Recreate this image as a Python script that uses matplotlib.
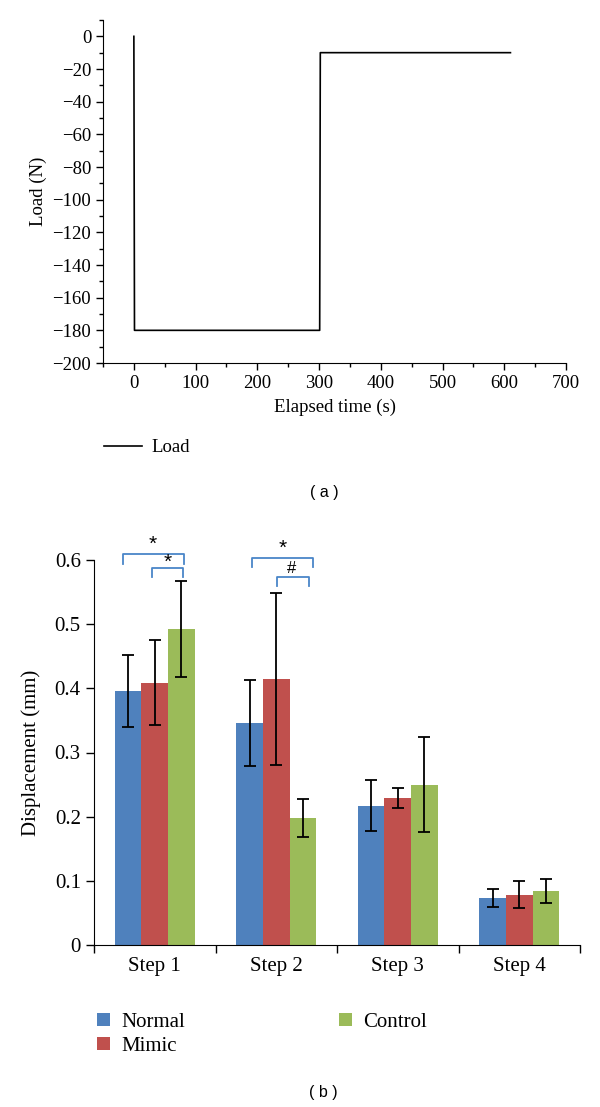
import matplotlib
matplotlib.use('Agg')
import matplotlib.pyplot as plt
from matplotlib.ticker import MultipleLocator, FixedLocator, NullFormatter
from matplotlib.lines import Line2D
from matplotlib.patches import Patch

# (a) load vs time
time_s = [0, 1, 301, 302, 610]
load_n = [0, -180, -180, -10, -10]

# (b) displacement per step and group
steps = ['Step 1', 'Step 2', 'Step 3', 'Step 4']
groups = ['Normal', 'Mimic', 'Control']
normal = [0.396, 0.346, 0.217, 0.074]
mimic = [0.409, 0.415, 0.229, 0.078]
control = [0.492, 0.198, 0.250, 0.084]
normal_err = [0.056, 0.067, 0.040, 0.014]
mimic_err = [0.066, 0.134, 0.016, 0.021]
control_err = [0.075, 0.029, 0.074, 0.019]

# significance brackets: x start, x end, y top, y bottom, label x, label y, label
br_x0 = [-0.26, -0.02, 0.80, 1.01]
br_x1 = [0.24, 0.235, 1.305, 1.27]
br_top = [0.610, 0.587, 0.603, 0.573]
br_bot = [0.594, 0.573, 0.589, 0.559]
lab_x = [-0.02, 0.105, 1.05, 1.13]
lab_y = [0.624, 0.596, 0.618, 0.587]
lab_txt = ['*', '*', '*', '#']

COLORS = ['#4f81bd', '#c0504d', '#9bbb59']
SERIF = ['Liberation Serif', 'DejaVu Serif']
SANS = ['Liberation Sans', 'DejaVu Sans']

plt.rcParams['font.family'] = SERIF

fig = plt.figure(figsize=(6.0, 11.07), dpi=100)

# ---- panel (a)
ax1 = fig.add_axes([103 / 600, 1 - 363 / 1107, 463 / 600, 343 / 1107])
ax1.plot(time_s, load_n, color='black', linewidth=1.2)
ax1.set_xlim(-50, 700)
ax1.set_ylim(-200, 10)
ax1.xaxis.set_major_locator(FixedLocator(range(0, 701, 100)))
ax1.xaxis.set_minor_locator(MultipleLocator(50))
ax1.yaxis.set_major_locator(FixedLocator(range(-200, 1, 20)))
ax1.yaxis.set_minor_locator(MultipleLocator(10))
ax1.tick_params(axis='both', which='major', labelsize=13.5, length=5, width=1, direction='out')
ax1.tick_params(axis='both', which='minor', length=3, width=1, direction='out')
ax1.spines['top'].set_visible(False)
ax1.spines['right'].set_visible(False)
ax1.set_xlabel('Elapsed time (s)', fontsize=13.5, labelpad=5)
ax1.set_ylabel('Load (N)', fontsize=13.5, labelpad=4)
ax1.legend(handles=[Line2D([0], [0], color='black', linewidth=1.2)], labels=['Load'],
           loc='upper left', bbox_to_anchor=(-0.013, -0.2), frameon=False,
           fontsize=13.5, handlelength=2.0, handletextpad=0.5, borderaxespad=0)

fig.text(324 / 600, 1 - 493 / 1107, '( a )', ha='center', va='center', fontsize=11.5, family=SANS)

# ---- panel (b)
ax2 = fig.add_axes([94 / 600, 1 - 945 / 1107, 486 / 600, 385 / 1107])
width = 0.22
series = [(normal, normal_err), (mimic, mimic_err), (control, control_err)]
for i, (vals, errs) in enumerate(series):
    xs = [k + (i - 1) * width for k in range(len(steps))]
    ax2.bar(xs, vals, width=width, color=COLORS[i], label=groups[i],
            yerr=errs, error_kw=dict(ecolor='black', elinewidth=1.3, capsize=4, capthick=1.3))

for x0, x1, yt, yb in zip(br_x0, br_x1, br_top, br_bot):
    ax2.plot([x0, x0, x1, x1], [yb, yt, yt, yb], color='#4a86c8', linewidth=1.3,
             clip_on=False, solid_joinstyle='round')
for x, y, t in zip(lab_x, lab_y, lab_txt):
    ax2.text(x, y, t, ha='center', va='center', fontsize=15 if t == '*' else 12,
             family=SANS, clip_on=False)

ax2.set_xlim(-0.5, 3.5)
ax2.set_ylim(0, 0.6)
ax2.yaxis.set_major_locator(MultipleLocator(0.1))
ax2.yaxis.set_major_formatter(plt.FuncFormatter(lambda v, p: '0' if abs(v) < 1e-9 else f'{v:.1f}'))
ax2.xaxis.set_major_locator(FixedLocator([-0.5, 0.5, 1.5, 2.5, 3.5]))
ax2.xaxis.set_major_formatter(NullFormatter())
ax2.xaxis.set_minor_locator(FixedLocator(range(len(steps))))
ax2.set_xticklabels(steps, minor=True)
ax2.tick_params(axis='x', which='major', length=6, width=1, direction='out')
ax2.tick_params(axis='x', which='minor', length=0, labelsize=15, pad=9)
ax2.tick_params(axis='y', which='major', length=6, width=1, direction='out', labelsize=15)
ax2.spines['top'].set_visible(False)
ax2.spines['right'].set_visible(False)
ax2.set_ylabel('Displacement (mm)', fontsize=15, labelpad=10)

handles = [Patch(facecolor=c, edgecolor='none') for c in COLORS]
ax2.legend(handles=handles, labels=groups, ncol=2, loc='upper left',
           bbox_to_anchor=(-0.01, -0.155), frameon=False, fontsize=15,
           handlelength=0.6, handleheight=0.6, handletextpad=0.55,
           columnspacing=7.4, labelspacing=0.25, borderaxespad=0)

fig.text(323 / 600, 1 - 1092 / 1107, '( b )', ha='center', va='center', fontsize=11.5, family=SANS)

fig.savefig('out.png', dpi=100)
